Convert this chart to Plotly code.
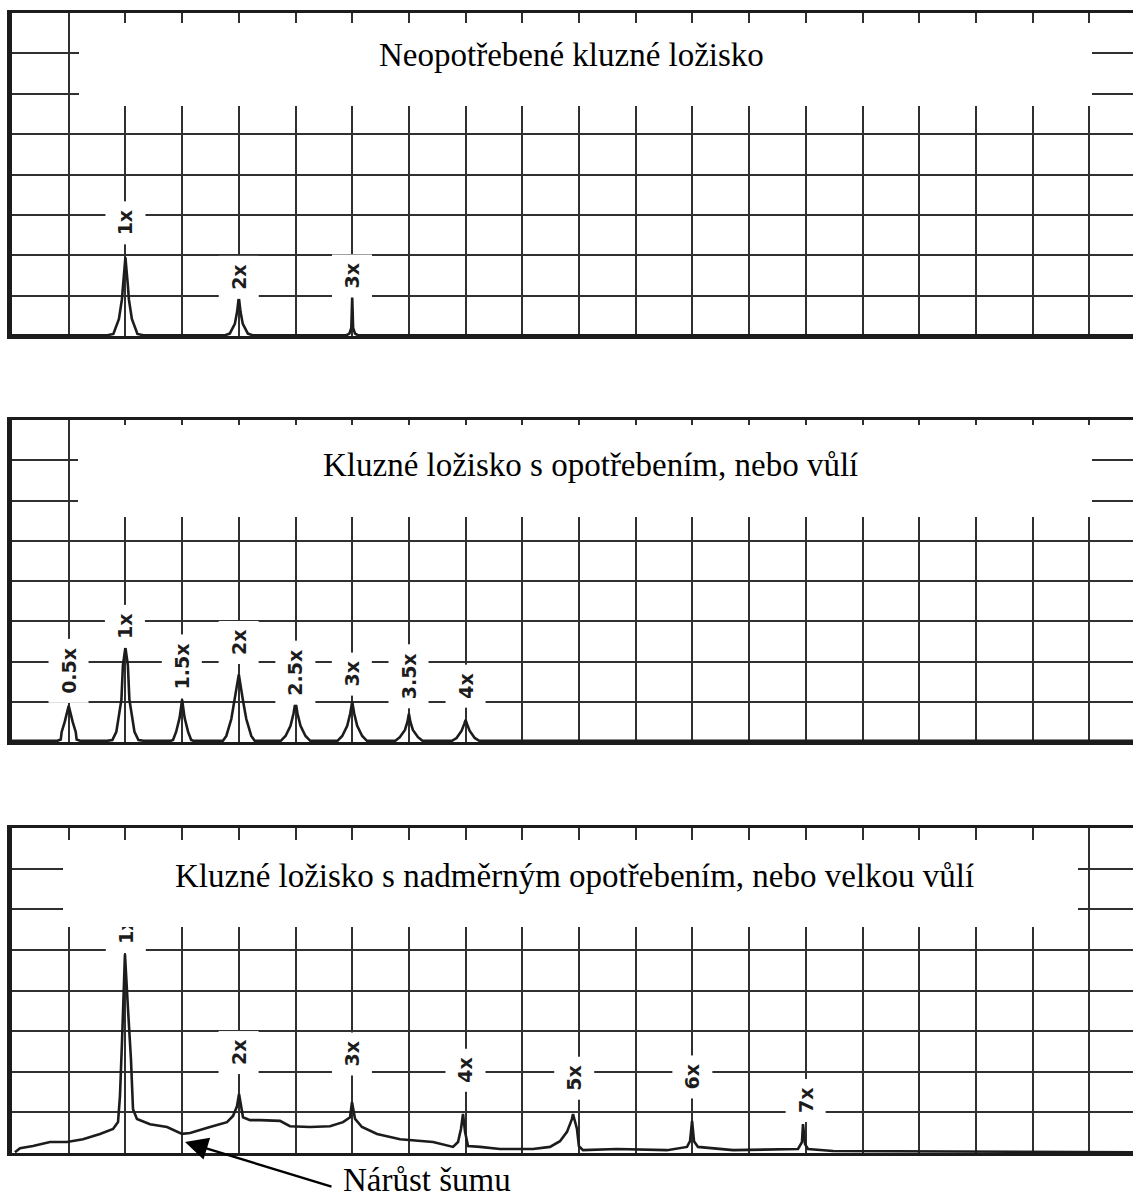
import plotly.graph_objects as go

# ---- spectra: x in running-speed orders, y in grid divisions ----
P1_X = [0.0, 0.84, 0.894, 0.943, 0.969, 0.978, 1.0, 1.022, 1.031, 1.057, 1.106, 1.16,
        1.88, 1.92, 1.965, 1.985, 2.0, 2.015, 2.035, 2.08, 2.12,
        2.95, 2.975, 2.992, 3.0, 3.008, 3.025, 3.05, 9.885]
P1_Y = [0.02, 0.02, 0.05, 0.42, 0.9, 1.24, 1.95, 1.24, 0.9, 0.42, 0.05, 0.02,
        0.02, 0.06, 0.3, 0.6, 0.96, 0.6, 0.3, 0.06, 0.02,
        0.02, 0.06, 0.2, 0.96, 0.2, 0.06, 0.02, 0.02]

P2_X = [0.0,
        0.40, 0.43, 0.438, 0.465, 0.5, 0.535, 0.562, 0.57, 0.60,
        0.84, 0.885, 0.92, 0.965, 0.978, 1.0, 1.022, 1.035, 1.08, 1.115, 1.16,
        1.40, 1.42, 1.447, 1.478, 1.5, 1.522, 1.553, 1.58, 1.60,
        1.86, 1.89, 1.934, 1.965, 2.0, 2.035, 2.066, 2.11, 2.14,
        2.37, 2.412, 2.456, 2.482, 2.5, 2.518, 2.544, 2.588, 2.63,
        2.87, 2.912, 2.956, 2.982, 3.0, 3.018, 3.044, 3.088, 3.13,
        3.38, 3.42, 3.465, 3.487, 3.5, 3.513, 3.535, 3.58, 3.62,
        3.88, 3.92, 3.965, 3.988, 4.0, 4.012, 4.035, 4.08, 4.12,
        9.885]
P2_Y = [0.03,
        0.03, 0.06, 0.25, 0.5, 0.9, 0.5, 0.25, 0.06, 0.03,
        0.03, 0.05, 0.25, 1.06, 1.9, 2.35, 1.9, 1.06, 0.25, 0.05, 0.03,
        0.03, 0.05, 0.25, 0.6, 1.05, 0.6, 0.25, 0.05, 0.03,
        0.03, 0.15, 0.57, 1.06, 1.68, 1.06, 0.57, 0.15, 0.03,
        0.03, 0.15, 0.4, 0.7, 1.0, 0.7, 0.4, 0.15, 0.03,
        0.03, 0.15, 0.4, 0.7, 1.0, 0.7, 0.4, 0.15, 0.03,
        0.03, 0.12, 0.3, 0.5, 0.7, 0.5, 0.3, 0.12, 0.03,
        0.03, 0.1, 0.28, 0.45, 0.55, 0.45, 0.28, 0.1, 0.03,
        0.03]

P3_X = [0.026, 0.071, 0.185, 0.335, 0.485, 0.626, 0.776, 0.891, 0.935,
        0.952, 0.970, 0.979, 0.988, 0.996, 1.023, 1.049, 1.067, 1.102,
        1.217, 1.367, 1.499, 1.570, 1.746, 1.896, 1.949,
        1.984, 2.002, 2.028, 2.037, 2.099,
        2.187, 2.363, 2.451, 2.628, 2.804, 2.919,
        2.981, 2.998, 3.025, 3.086, 3.219, 3.422, 3.713, 3.889,
        3.933, 3.959, 3.977, 3.995, 4.021, 4.127, 4.303, 4.594, 4.744,
        4.832, 4.894, 4.938, 4.947, 4.982, 4.999, 5.035, 5.335, 5.776, 5.952,
        5.979, 5.997, 6.014, 6.049, 6.358, 6.931,
        6.966, 6.975, 6.993, 7.019, 7.240, 9.885]
P3_Y = [0.02, 0.12, 0.17, 0.27, 0.27, 0.34, 0.47, 0.59, 0.76,
        1.40, 2.73, 3.54, 4.45, 4.89, 3.54, 2.31, 1.08, 0.84,
        0.71, 0.64, 0.47, 0.49, 0.64, 0.76, 0.91,
        1.15, 1.45, 1.08, 0.88, 0.81,
        0.81, 0.79, 0.66, 0.64, 0.66, 0.76,
        0.88, 1.25, 0.84, 0.64, 0.47, 0.34, 0.27, 0.15,
        0.27, 0.59, 0.96, 0.52, 0.17, 0.15, 0.10, 0.10, 0.15,
        0.29, 0.52, 0.84, 0.96, 0.59, 0.17, 0.07, 0.10, 0.07, 0.15,
        0.29, 0.79, 0.29, 0.15, 0.07, 0.10,
        0.27, 0.71, 0.22, 0.10, 0.05, 0.02]

# ---- harmonic labels (text, order, height of label centre) ----
P1_LABELS = ["1x", "2x", "3x"]
P1_LABEL_X = [1.0, 2.0, 3.0]
P1_LABEL_Y = [2.80, 1.46, 1.48]

P2_LABELS = ["0.5x", "1x", "1.5x", "2x", "2.5x", "3x", "3.5x", "4x"]
P2_LABEL_X = [0.5, 1.0, 1.5, 2.0, 2.5, 3.0, 3.5, 4.0]
P2_LABEL_Y = [1.76, 2.87, 1.88, 2.48, 1.71, 1.68, 1.63, 1.39]

P3_LABELS = ["1x", "2x", "3x", "4x", "5x", "6x", "7x"]
P3_LABEL_X = [1.0, 2.0, 3.0, 4.0, 4.96, 6.0, 7.0]
P3_LABEL_Y = [5.45, 2.48, 2.43, 2.04, 1.84, 1.87, 1.30]

TITLES = [
    "Neopotřebené kluzné ložisko",
    "Kluzné ložisko s opotřebením, nebo vůlí",
    "Kluzné ložisko s nadměrným opotřebením, nebo velkou vůlí",
]
NOTE_TEXT = "Nárůst šumu"

W, H = 1133, 1198
X_MAX = 9.885
INK = "#1c1c1c"
GRID = "#303030"

fig = go.Figure()

panels = [(P1_X, P1_Y), (P2_X, P2_Y), (P3_X, P3_Y)]
for i, (xs, ys) in enumerate(panels, start=1):
    fig.add_trace(go.Scatter(
        x=xs, y=ys, mode="lines",
        line=dict(color=INK, width=2.6),
        xaxis="x" if i == 1 else f"x{i}",
        yaxis="y" if i == 1 else f"y{i}",
        hoverinfo="skip", showlegend=False,
    ))

# vertical pixel extents of the three panels (top, bottom)
panel_px = [(13, 336), (420, 742), (828, 1153)]
x_dom = [12 / W, 1.0]

layout = dict(
    width=W, height=H,
    margin=dict(l=0, r=0, t=0, b=0),
    paper_bgcolor="white", plot_bgcolor="white",
    showlegend=False,
)

for i, (top, bot) in enumerate(panel_px, start=1):
    sfx = "" if i == 1 else str(i)
    layout[f"xaxis{sfx}"] = dict(
        domain=x_dom, range=[0, X_MAX], anchor=f"y{sfx}",
        tick0=0, dtick=0.5, showgrid=True, gridcolor=GRID, gridwidth=1.9,
        showticklabels=False, ticks="", zeroline=False,
        showline=True, linecolor=INK, linewidth=3, mirror=True,
        fixedrange=True,
    )
    layout[f"yaxis{sfx}"] = dict(
        domain=[1 - bot / H, 1 - top / H], range=[0, 8], anchor=f"x{sfx}",
        tick0=0, dtick=1, showgrid=True, gridcolor=GRID, gridwidth=1.9,
        showticklabels=False, ticks="", zeroline=False,
        showline=True, linecolor=INK, linewidth=5, mirror=False,
        fixedrange=True,
    )

annotations = []

label_font = dict(family="DejaVu Sans, Liberation Sans, sans-serif", size=19, color=INK)
label_sets = [
    (P1_LABELS, P1_LABEL_X, P1_LABEL_Y, "x", "y"),
    (P2_LABELS, P2_LABEL_X, P2_LABEL_Y, "x2", "y2"),
    (P3_LABELS, P3_LABEL_X, P3_LABEL_Y, "x3", "y3"),
]
for texts, xs, ys, xr, yr in label_sets:
    for t, xv, yv in zip(texts, xs, ys):
        annotations.append(dict(
            text=f"<b>{t}</b>", x=xv, y=yv, xref=xr, yref=yr,
            showarrow=False, textangle=-90, font=label_font,
            bgcolor="white", borderpad=9, borderwidth=0,
            xanchor="center", yanchor="middle",
        ))

# white title panels (pixel boxes: left, top, right, bottom)
title_boxes = [(79, 23, 1092, 106), (78, 425, 1092, 517), (63, 840, 1078, 927)]
# title text centres in pixels
title_pos = [(571, 55), (590, 465), (574, 876)]
title_font = dict(family="Liberation Serif, Times New Roman, serif", size=33, color="black")

for (l, t, r, b) in title_boxes:
    annotations.append(dict(
        text=" ", x=(l + r) / 2 / W, y=1 - (t + b) / 2 / H,
        xref="paper", yref="paper", showarrow=False,
        width=r - l, height=b - t, bgcolor="white",
        borderpad=0, borderwidth=0, xanchor="center", yanchor="middle",
    ))
for text, (cx, cy) in zip(TITLES, title_pos):
    annotations.append(dict(
        text=text, x=cx / W, y=1 - cy / H, xref="paper", yref="paper",
        showarrow=False, font=title_font, xanchor="center", yanchor="middle",
    ))

# noise-rise callout
annotations.append(dict(
    text="", x=185 / W, y=1 - 1142 / H, xref="paper", yref="paper",
    showarrow=True, ax=148, ay=45, axref="pixel", ayref="pixel",
    arrowhead=2, arrowsize=1.9, arrowwidth=2.4, arrowcolor="black",
))
annotations.append(dict(
    text=NOTE_TEXT, x=427 / W, y=1 - 1180 / H, xref="paper", yref="paper",
    showarrow=False, font=title_font, xanchor="center", yanchor="middle",
))

layout["annotations"] = annotations
fig.update_layout(**layout)

fig.write_html("out.html")
